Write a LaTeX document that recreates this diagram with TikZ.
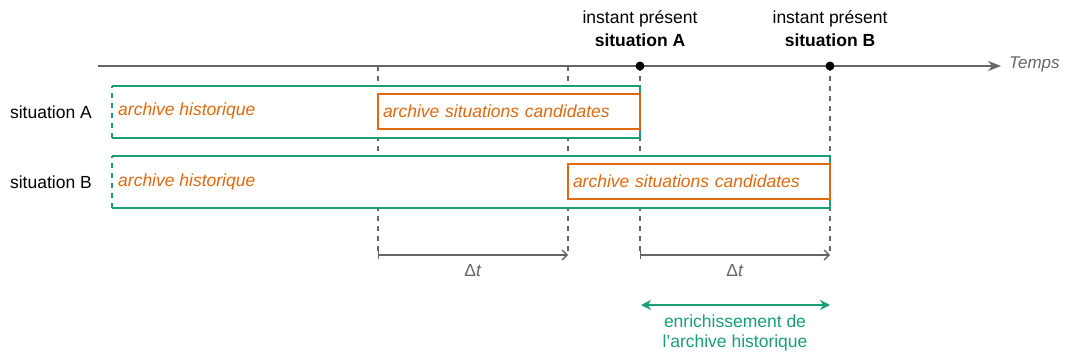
\documentclass[tikz,border=0pt]{standalone}
\usepackage{fontspec}
\setmainfont{Liberation Sans}
\usetikzlibrary{arrows.meta}
\definecolor{cgreen}{HTML}{1A9E77}
\definecolor{corange}{HTML}{E0690F}
\definecolor{cgray}{HTML}{666666}
\tikzset{
  txt/.style={font=\fontsize{17.5}{21}\selectfont, inner sep=0pt},
  gbox/.style={minimum height=52pt, inner sep=0pt, fill=white},
  gline/.style={draw=cgreen, line width=1.6pt},
  obox/.style={draw=corange, fill=white, line width=1.6pt, minimum height=35pt, inner xsep=5pt, inner ysep=0pt,
    text width=252pt, align=left, text=corange, font=\fontsize{17.5}{21}\selectfont\itshape},
  vdash/.style={draw=cgray, line width=1.3pt, dash pattern=on 5pt off 5pt},
  dot/.style={circle, fill=black, inner sep=0pt, minimum size=9pt},
  dtarrow/.style={draw=cgray, line width=1.3pt, {Bar[width=8pt]}-{Straight Barb[length=5pt,width=10pt]}},
}
\begin{document}
\begin{tikzpicture}[x=1pt, y=-1pt]
\useasboundingbox (0,0) rectangle (1067,356);

% timeline
\coordinate (t0) at (98,66);
\coordinate (t1) at (1001,66);
\draw[cgray, line width=1.6pt, -{Stealth[length=13pt,width=10pt]}] (t0) -- (t1);
\node[txt, anchor=west, text=cgray, font=\fontsize{17}{20}\selectfont\itshape] (temps) at (1009,64) {Temps};

% vertical dashed lines
\foreach \n/\x in {a/378, b/568, c/640, d/830}{
  \coordinate (top\n) at (\x,66);
  \coordinate (bot\n) at (\x,255);
  \draw[vdash] (top\n) -- (bot\n);
}

% top labels
\node[txt, align=center, font=\fontsize{17.5}{23}\selectfont] (lblA) at (640,29) {instant présent\\\textbf{situation A}};
\node[txt, align=center, font=\fontsize{17.5}{23}\selectfont] (lblB) at (830,29) {instant présent\\\textbf{situation B}};

% green boxes
\node[gbox, minimum width=528pt] (gA) at (376,112) {};
\node[gbox, minimum width=718pt] (gB) at (471,182) {};
\foreach \g in {gA,gB}{
  \draw[gline] (\g.north west) -- (\g.north east) -- (\g.south east) -- (\g.south west);
  \draw[gline, dash pattern=on 5pt off 5pt] (\g.south west) -- (\g.north west);
}

% orange boxes
\node[obox] (oA) at (509,111.5) {archive situations candidates};
\node[obox] (oB) at (699,181.5) {archive situations candidates};

% dots
\node[dot] (dotA) at (640,66) {};
\node[dot] (dotB) at (830,66) {};

% archive historique labels
\node[txt, anchor=west, text=corange, font=\fontsize{17.5}{21}\selectfont\itshape] (hA) at (118,111) {archive historique};
\node[txt, anchor=west, text=corange, font=\fontsize{17.5}{21}\selectfont\itshape] (hB) at (118,182) {archive historique};

% row labels
\node[txt, anchor=east] (sA) at (92,112) {situation A};
\node[txt, anchor=east] (sB) at (92,182) {situation B};

% delta t arrows
\coordinate (d1s) at (378,255);
\coordinate (d1e) at (568,255);
\coordinate (d2s) at (640,255);
\coordinate (d2e) at (830,255);
\draw[dtarrow] (d1s) -- (d1e);
\draw[dtarrow] (d2s) -- (d2e);
\node[txt, text=cgray] (dt1) at (473,271) {Δ\textit{t}};
\node[txt, text=cgray] (dt2) at (735,271) {Δ\textit{t}};

% enrichissement
\coordinate (e1) at (641,305);
\coordinate (e2) at (830,305);
\draw[cgreen, line width=1.6pt, {Stealth[length=10pt,width=10pt]}-{Stealth[length=10pt,width=10pt]}] (e1) -- (e2);
\node[txt, align=center, text=cgreen, font=\fontsize{17.5}{20}\selectfont] (enr) at (735,333) {enrichissement de\\l'archive historique};
\end{tikzpicture}
\end{document}
